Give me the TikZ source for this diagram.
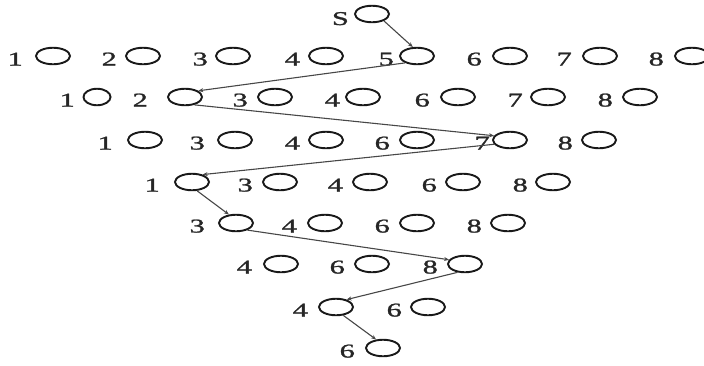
\documentclass[tikz,border=0pt]{standalone}
\usepackage{fontspec}
\setmainfont{Liberation Serif}
\newfontfamily\labfont{Liberation Serif}[FakeBold=1.2]
\usetikzlibrary{shapes.geometric,arrows.meta}
\tikzset{
  oval/.style={ellipse, draw=black!90, line width=1.9pt, minimum width=34pt, minimum height=16.5pt, inner sep=0pt},
  lab/.style={anchor=base east, inner sep=0pt, text=black!85},
  link/.style={draw=black!72, line width=1.1pt, -{Stealth[length=5pt,width=4pt]}}
}
\newcommand\lbl[1]{\scalebox{1.55}[1]{\labfont\fontsize{19.5}{19.5}\selectfont #1}}
\newcommand\cn[6][]{\node[oval,#1] (#2) at (#5,#6) {};\node[lab] (#2t) at (#4,#6+9.5) {\lbl{#3}};}
\begin{document}
\begin{tikzpicture}[x=1pt,y=-1pt]
\useasboundingbox (0,0) rectangle (704,365);
% start
\node[oval] (s) at (372,14) {};
\node[lab] (st) at (349,25) {\lbl{S}};
% row 1
\cn{a1}{1}{23}{53}{56}
\cn{a2}{2}{117}{143}{56}
\cn{a3}{3}{208}{233}{56}
\cn{a4}{4}{300}{326}{56}
\cn{a5}{5}{394}{417}{56}
\cn{a6}{6}{482}{510}{56}
\cn{a7}{7}{572}{600}{56}
\cn{a8}{8}{664}{692}{56}
% row 2
\cn[minimum width=27pt]{b1}{1}{75}{97}{97}
\cn{b2}{2}{148}{185}{97}
\cn{b3}{3}{248}{275}{97}
\cn{b4}{4}{340}{363}{97}
\cn{b6}{6}{430}{458}{97}
\cn{b7}{7}{523}{548}{97}
\cn{b8}{8}{613}{640}{97}
% row 3
\cn{c1}{1}{113}{145}{140}
\cn{c3}{3}{205}{235}{140}
\cn{c4}{4}{300}{326}{140}
\cn{c6}{6}{390}{417}{140}
\cn{c7}{7}{490}{510}{140}
\cn{c8}{8}{573}{599}{140}
% row 4
\cn{d1}{1}{160}{192}{182}
\cn{d3}{3}{253}{280}{182}
\cn{d4}{4}{343}{370}{182}
\cn{d6}{6}{437}{463}{182}
\cn{d8}{8}{528}{553}{182}
% row 5
\cn{e3}{3}{205}{236}{223}
\cn{e4}{4}{297}{325}{223}
\cn{e6}{6}{390}{417}{223}
\cn{e8}{8}{482}{508}{223}
% row 6
\cn{f4}{4}{252}{281}{264}
\cn{f6}{6}{345}{372}{264}
\cn{f8}{8}{438}{465}{264}
% row 7
\cn{g4}{4}{308}{336}{307}
\cn{g6}{6}{402}{428}{307}
% row 8
\cn{h6}{6}{355}{383}{348}
% path
\draw[link] (s.330) -- (a5.115);
\draw[link] (a5.210) -- (b2.25);
\draw[link] (b2.320) -- (c7.165);
\draw[link] (c7.195) -- (d1.35);
\draw[link] (d1.300) -- (e3.130);
\draw[link] (e3.328) -- (f8.165);
\draw[link] (f8.228) -- (g4.35);
\draw[link] (g4.311) -- (h6.129);
\end{tikzpicture}
\end{document}
